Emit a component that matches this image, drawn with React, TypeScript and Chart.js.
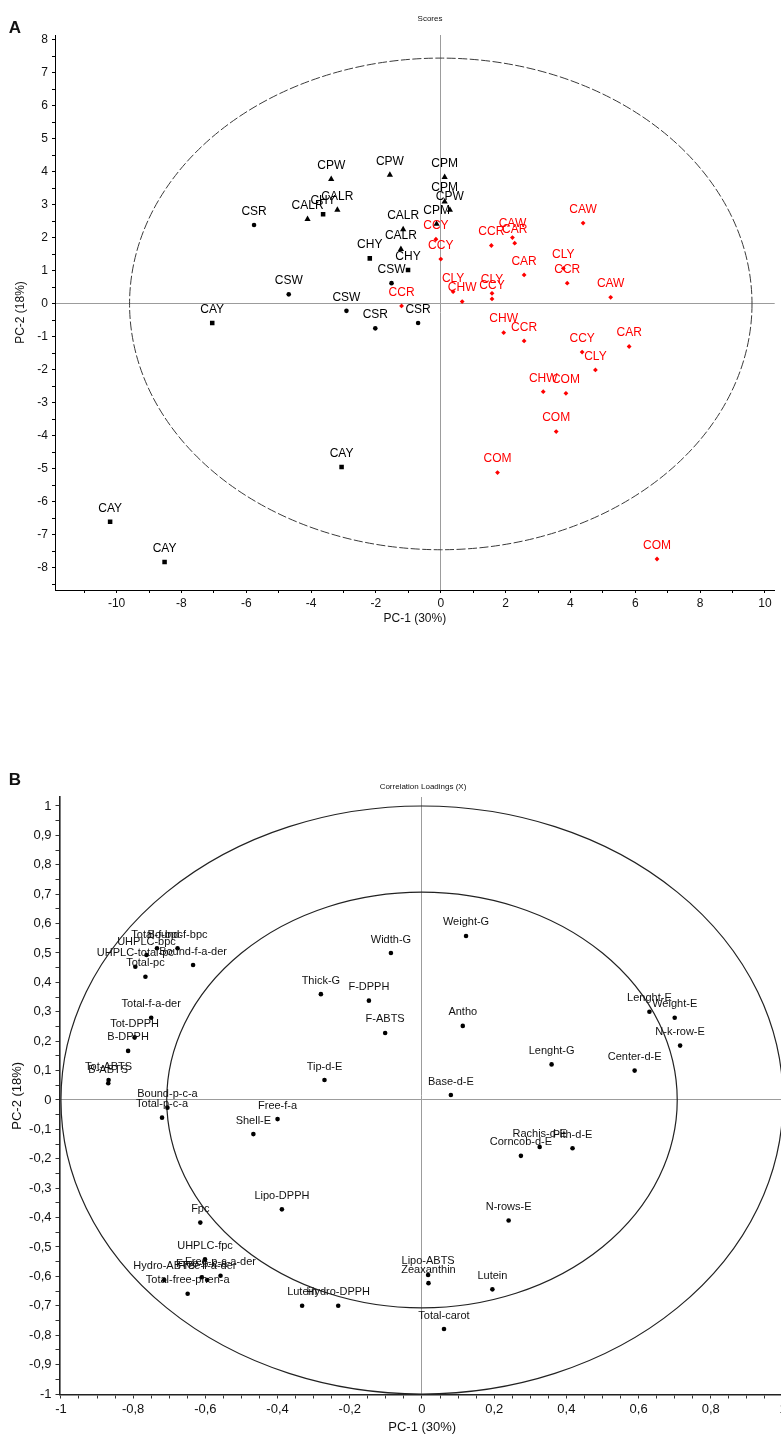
import React, { useEffect, useRef } from 'react';
import { Chart, registerables } from 'chart.js';

Chart.register(...registerables);

// ---------------- Panel A : Scores ----------------
const scoreTriLabels = ['CPW', 'CPW', 'CPM', 'CPM', 'CPW', 'CPM', 'CALR', 'CALR', 'CALR', 'CALR'];
const scoreTriX = [-3.38, -1.57, 0.12, 0.12, 0.28, -0.13, -4.11, -3.19, -1.16, -1.23];
const scoreTriY = [3.78, 3.91, 3.84, 3.1, 2.85, 2.42, 2.57, 2.85, 2.26, 1.66];

const scoreSqLabels = ['CHY', 'CHY', 'CHY', 'CAY', 'CAY', 'CAY', 'CAY'];
const scoreSqX = [-3.63, -2.19, -1.01, -7.05, -3.06, -10.2, -8.52];
const scoreSqY = [2.72, 1.38, 1.03, -0.58, -4.94, -6.6, -7.82];

const scoreCircLabels = ['CSR', 'CSW', 'CSW', 'CSR', 'CSR', 'CSW'];
const scoreCircX = [-5.76, -4.69, -2.91, -2.02, -0.7, -1.52];
const scoreCircY = [2.39, 0.29, -0.21, -0.74, -0.58, 0.63];

const scoreRedLabels = ['CCY', 'CCY', 'CCR', 'CLY', 'CHW', 'CLY', 'CCY', 'CCR', 'CAW', 'CAR', 'CAW', 'CAR', 'CLY', 'CCR', 'CAW', 'CHW', 'CCR', 'CCY', 'CLY', 'CAR', 'CHW', 'COM', 'COM', 'COM', 'COM'];
const scoreRedX = [-0.15, 0.0, -1.21, 0.38, 0.66, 1.58, 1.58, 1.56, 2.21, 2.28, 4.39, 2.57, 3.78, 3.9, 5.24, 1.94, 2.57, 4.36, 4.77, 5.81, 3.16, 3.86, 3.56, 1.75, 6.67];
const scoreRedY = [1.96, 1.36, -0.06, 0.37, 0.07, 0.32, 0.15, 1.77, 2.01, 1.84, 2.45, 0.88, 1.08, 0.63, 0.2, -0.87, -1.12, -1.46, -2.0, -1.29, -2.66, -2.71, -3.87, -5.11, -7.73];

const scoreXMajorTicks = [-10, -8, -6, -4, -2, 0, 2, 4, 6, 8, 10];
const scoreYMajorTicks = [-8, -7, -6, -5, -4, -3, -2, -1, 0, 1, 2, 3, 4, 5, 6, 7, 8];
const scoreEllipse = { rx: 9.6, ry: 7.45 };

// ---------------- Panel B : Correlation loadings ----------------
const loadLabels = [
  'Total-f-bpc', 'Bound-f-bpc', 'UHPLC-bpc', 'UHPLC-total-pc', 'Total-pc', 'Bound-f-a-der',
  'Total-f-a-der', 'Tot-DPPH', 'B-DPPH', 'Tot-ABTS', 'B-ABTS', 'Bound-p-c-a', 'Total-p-c-a',
  'Free-f-a', 'Shell-E', 'Tip-d-E', 'Thick-G', 'F-DPPH', 'F-ABTS', 'Width-G', 'Weight-G',
  'Antho', 'Lenght-G', 'Base-d-E', 'Lenght-E', 'Weight-E', 'N-k-row-E', 'Center-d-E',
  'Rachis-d-E', 'Pith-d-E', 'Corncob-d-E', 'N-rows-E', 'Lutein', 'Total-carot', 'Zeaxanthin',
  'Lipo-ABTS', 'Lutein', 'Hydro-DPPH', 'Total-free-phen-a', 'Hydro-ABTS', 'Free-p-c-a',
  'Free-p-c-a-der', 'Free-f-a-der', 'UHPLC-fpc', 'Fpc', 'Lipo-DPPH',
];
const loadX = [
  -0.734, -0.677, -0.763, -0.794, -0.766, -0.634,
  -0.75, -0.796, -0.814, -0.868, -0.869, -0.705, -0.72,
  -0.4, -0.467, -0.27, -0.28, -0.147, -0.102, -0.086, 0.122,
  0.113, 0.359, 0.08, 0.63, 0.7, 0.715, 0.589,
  0.326, 0.417, 0.274, 0.24, 0.195, 0.061, 0.018,
  0.017, -0.332, -0.232, -0.649, -0.714, -0.61,
  -0.558, -0.595, -0.601, -0.614, -0.388,
];
const loadY = [
  0.516, 0.516, 0.493, 0.453, 0.419, 0.459,
  0.28, 0.213, 0.167, 0.068, 0.057, -0.026, -0.06,
  -0.065, -0.116, 0.068, 0.36, 0.338, 0.228, 0.5, 0.558,
  0.252, 0.121, 0.017, 0.3, 0.28, 0.185, 0.1,
  -0.16, -0.164, -0.19, -0.41, -0.644, -0.779, -0.623,
  -0.595, -0.7, -0.7, -0.659, -0.612, -0.603,
  -0.598, -0.612, -0.542, -0.417, -0.372,
];
const loadXMajorTicks = [-1, -0.8, -0.6, -0.4, -0.2, 0, 0.2, 0.4, 0.6, 0.8, 1];
const loadYMajorTicks = [-1, -0.9, -0.8, -0.7, -0.6, -0.5, -0.4, -0.3, -0.2, -0.1, 0, 0.1, 0.2, 0.3, 0.4, 0.5, 0.6, 0.7, 0.8, 0.9, 1];
const loadCircles = [1, 0.707];

// ---------------- helpers ----------------
const ARIAL = 'Arial, "Liberation Sans", Arimo, sans-serif';

function narrowAvailable(): boolean {
  try {
    const c = document.createElement('canvas').getContext('2d');
    if (!c) return false;
    c.font = '20px monospace';
    const w0 = c.measureText('PC-1 (30%) abcdef').width;
    c.font = '20px "Liberation Sans Narrow", monospace';
    const w1 = c.measureText('PC-1 (30%) abcdef').width;
    return Math.abs(w0 - w1) > 0.5;
  } catch (e) {
    return false;
  }
}

function fmtComma(v: number): string {
  return String(v).replace('.', ',');
}

function findMajor(v: number, majors: number[]): number | null {
  for (const m of majors) if (Math.abs(m - v) < 1e-6) return m;
  return null;
}

const zeroGrid = (c: any) =>
  c.tick && Math.abs(c.tick.value) < 1e-9 ? '#9c9c9c' : 'rgba(0,0,0,0)';

const pointLabelPlugin = {
  id: 'pointLabels',
  afterDatasetsDraw(chart: any) {
    const ctx = chart.ctx;
    ctx.save();
    chart.data.datasets.forEach((ds: any, i: number) => {
      if (!ds.pointLabels) return;
      const meta = chart.getDatasetMeta(i);
      ctx.font = ds.labelFont;
      ctx.fillStyle = ds.labelColor;
      ctx.textAlign = 'center';
      ctx.textBaseline = 'middle';
      meta.data.forEach((pt: any, j: number) => {
        ctx.fillText(ds.pointLabels[j], pt.x, pt.y - ds.labelOffset);
      });
    });
    ctx.restore();
  },
};

const ellipsePlugin = {
  id: 'ellipses',
  beforeDatasetsDraw(chart: any, _args: any, opts: any) {
    const xs = chart.scales.x;
    const ys = chart.scales.y;
    const ctx = chart.ctx;
    const cx = xs.getPixelForValue(0);
    const cy = ys.getPixelForValue(0);
    ctx.save();
    (opts.items || []).forEach((e: any) => {
      const rx = Math.abs(xs.getPixelForValue(e.rx) - cx);
      const ry = Math.abs(ys.getPixelForValue(e.ry) - cy);
      ctx.beginPath();
      ctx.setLineDash(e.dash || []);
      ctx.strokeStyle = e.color;
      ctx.lineWidth = e.width;
      ctx.ellipse(cx, cy, rx, ry, 0, 0, Math.PI * 2);
      ctx.stroke();
    });
    ctx.restore();
  },
};

function toPoints(xs: number[], ys: number[]) {
  return xs.map((x, i) => ({ x, y: ys[i] }));
}

function buildScoresConfig(): any {
  const labelFont = `12px ${ARIAL}`;
  const mk = (labels: string[], xs: number[], ys: number[], style: string, radius: number, color: string) => ({
    data: toPoints(xs, ys),
    pointStyle: style,
    pointRadius: radius,
    pointBackgroundColor: color,
    pointBorderColor: color,
    pointBorderWidth: 0,
    showLine: false,
    pointLabels: labels,
    labelFont,
    labelColor: color,
    labelOffset: 13.5,
  });
  const tickFont = { family: ARIAL, size: 12 };
  return {
    type: 'scatter',
    data: {
      datasets: [
        mk(scoreTriLabels, scoreTriX, scoreTriY, 'triangle', 3.6, '#000'),
        mk(scoreSqLabels, scoreSqX, scoreSqY, 'rect', 3.2, '#000'),
        mk(scoreCircLabels, scoreCircX, scoreCircY, 'circle', 2.3, '#000'),
        mk(scoreRedLabels, scoreRedX, scoreRedY, 'rectRot', 2.4, '#ff0000'),
      ],
    },
    options: {
      responsive: false,
      animation: false,
      events: [],
      layout: { padding: { left: 0, right: 6.3, top: 35, bottom: 0 } },
      plugins: {
        legend: { display: false },
        tooltip: { enabled: false },
        title: { display: false },
        ellipses: { items: [{ rx: scoreEllipse.rx, ry: scoreEllipse.ry, color: '#3a3a3a', width: 1, dash: [9, 2.5] }] },
      },
      scales: {
        x: {
          type: 'linear',
          min: -11.9,
          max: 10.3,
          afterFit: (s: any) => { s.height = 55; },
          border: { display: true, color: '#000', width: 1 },
          grid: { drawOnChartArea: true, color: zeroGrid, tickColor: '#000', tickLength: 3, lineWidth: 1 },
          ticks: {
            stepSize: 1,
            autoSkip: false,
            includeBounds: false,
            maxRotation: 0,
            padding: 3,
            color: '#111',
            font: tickFont,
            callback: (v: number) => {
              const m = findMajor(v, scoreXMajorTicks);
              return m === null ? '' : String(m);
            },
          },
          title: { display: true, text: 'PC-1 (30%)', color: '#111', font: { family: ARIAL, size: 12, lineHeight: 1.2 }, padding: { top: 0, bottom: 19 } },
        },
        y: {
          type: 'linear',
          min: -8.67,
          max: 8.15,
          afterFit: (s: any) => { s.width = 55; },
          border: { display: true, color: '#000', width: 1 },
          grid: { drawOnChartArea: true, color: zeroGrid, tickColor: '#000', tickLength: 3, lineWidth: 1 },
          ticks: {
            stepSize: 0.5,
            autoSkip: false,
            includeBounds: false,
            padding: 4,
            color: '#111',
            font: tickFont,
            callback: (v: number) => {
              const m = findMajor(v, scoreYMajorTicks);
              return m === null ? '' : String(m);
            },
          },
          title: { display: true, text: 'PC-2 (18%)', color: '#111', font: { family: ARIAL, size: 12, lineHeight: 1.2 }, padding: { top: 13, bottom: 0 } },
        },
      },
    },
    plugins: [ellipsePlugin, pointLabelPlugin],
  };
}

function buildLoadingsConfig(): any {
  const narrow = narrowAvailable();
  const axisFamily = narrow ? '"Liberation Sans Narrow", "Arial Narrow", sans-serif' : ARIAL;
  const axisSize = narrow ? 15 : 13;
  const tickFont = { family: axisFamily, size: axisSize };
  return {
    type: 'scatter',
    data: {
      datasets: [
        {
          data: toPoints(loadX, loadY),
          pointStyle: 'circle',
          pointRadius: 2.3,
          pointBackgroundColor: '#000',
          pointBorderColor: '#000',
          pointBorderWidth: 0,
          showLine: false,
          pointLabels: loadLabels,
          labelFont: `11px ${ARIAL}`,
          labelColor: '#111',
          labelOffset: 13.5,
        },
      ],
    },
    options: {
      responsive: false,
      animation: false,
      events: [],
      layout: { padding: { left: 0, right: 5, top: 37, bottom: 0 } },
      plugins: {
        legend: { display: false },
        tooltip: { enabled: false },
        title: { display: false },
        ellipses: {
          items: loadCircles.map((r) => ({ rx: r, ry: r, color: '#222', width: 1.2, dash: [] })),
        },
      },
      scales: {
        x: {
          type: 'linear',
          min: -1.004,
          max: 1.0055,
          afterFit: (s: any) => { s.height = 39.5; },
          border: { display: true, color: '#222', width: 1.6 },
          grid: { drawOnChartArea: true, color: zeroGrid, tickColor: '#333', tickLength: 4, lineWidth: 1 },
          ticks: {
            stepSize: 0.05,
            autoSkip: false,
            includeBounds: false,
            maxRotation: 0,
            padding: 3,
            color: '#111',
            font: tickFont,
            callback: (v: number) => {
              const m = findMajor(v, loadXMajorTicks);
              return m === null ? '' : fmtComma(m);
            },
          },
          title: { display: true, text: 'PC-1 (30%)', color: '#111', font: { family: axisFamily, size: axisSize, lineHeight: 1 }, padding: { top: 0, bottom: 0 } },
        },
        y: {
          type: 'linear',
          min: -1.0017,
          max: 1.0306,
          afterFit: (s: any) => { s.width = 59.5; },
          border: { display: true, color: '#222', width: 1.6 },
          grid: { drawOnChartArea: true, color: zeroGrid, tickColor: '#333', tickLength: 4, lineWidth: 1 },
          ticks: {
            stepSize: 0.05,
            autoSkip: false,
            includeBounds: false,
            padding: 4,
            color: '#111',
            font: tickFont,
            callback: (v: number) => {
              const m = findMajor(v, loadYMajorTicks);
              return m === null ? '' : fmtComma(m);
            },
          },
          title: { display: true, text: 'PC-2 (18%)', color: '#111', font: { family: axisFamily, size: axisSize, lineHeight: 1 }, padding: { top: 10.5, bottom: 0 } },
        },
      },
    },
    plugins: [ellipsePlugin, pointLabelPlugin],
  };
}

function ChartBox(props: { width: number; height: number; top: number; build: () => any }) {
  const ref = useRef<HTMLCanvasElement>(null);
  useEffect(() => {
    if (!ref.current) return;
    const chart = new Chart(ref.current, props.build());
    return () => chart.destroy();
  }, []);
  return (
    <canvas
      ref={ref}
      width={props.width}
      height={props.height}
      style={{ position: 'absolute', left: 0, top: props.top, width: props.width, height: props.height, display: 'block' }}
    />
  );
}

function Text(props: { x: number; y: number; size: number; bold?: boolean; children: string }) {
  return (
    <div
      style={{
        position: 'absolute',
        left: props.x,
        top: props.y,
        transform: 'translate(-50%, -50%)',
        fontFamily: ARIAL,
        fontSize: props.size,
        fontWeight: props.bold ? 'bold' : 'normal',
        lineHeight: 1,
        whiteSpace: 'nowrap',
        color: '#111',
      }}
    >
      {props.children}
    </div>
  );
}

export default function App() {
  return (
    <div style={{ position: 'absolute', left: 0, top: 0, width: 781, height: 1434, overflow: 'hidden', background: '#fff' }}>
      <ChartBox width={781} height={645} top={0} build={buildScoresConfig} />
      <ChartBox width={790} height={674} top={760} build={buildLoadingsConfig} />
      <Text x={15} y={27} size={17} bold>A</Text>
      <Text x={430} y={19} size={8}>Scores</Text>
      <Text x={15} y={779} size={17} bold>B</Text>
      <Text x={423} y={787} size={8}>Correlation Loadings (X)</Text>
    </div>
  );
}
